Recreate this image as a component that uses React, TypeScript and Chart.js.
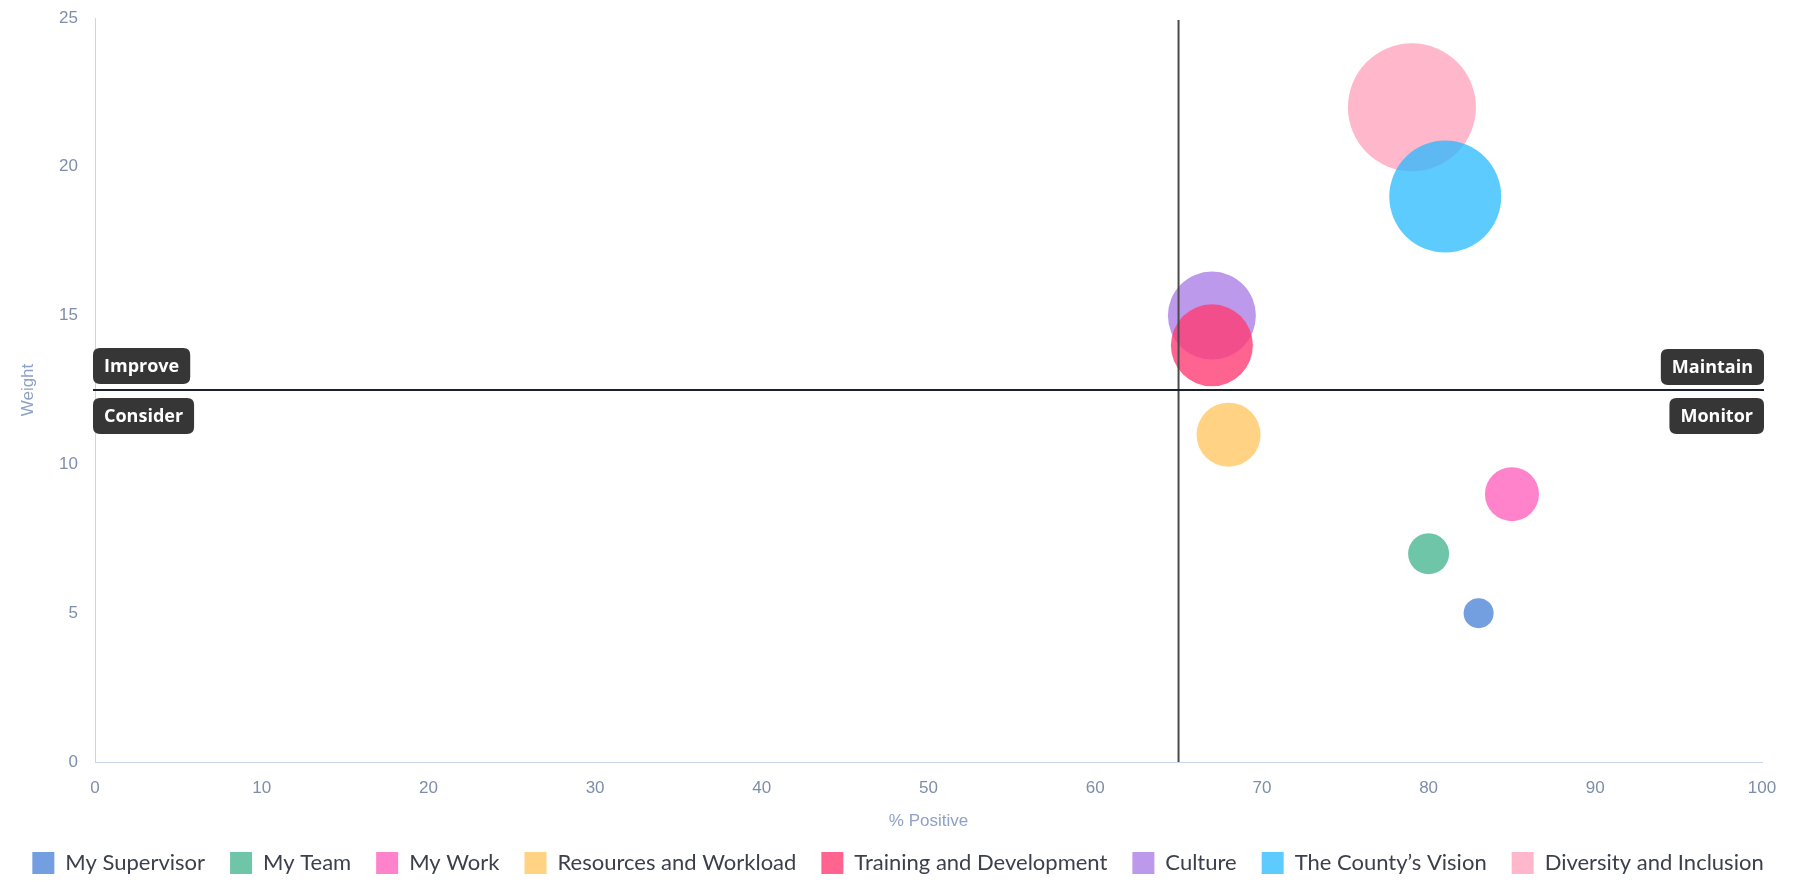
import React, { useEffect, useRef } from 'react';
import { Chart, registerables } from 'chart.js';

Chart.register(...registerables);

// Survey themes plotted as bubbles: x = % positive, y = weight, r = bubble radius (px)
const categories = [
  'My Supervisor',
  'My Team',
  'My Work',
  'Resources and Workload',
  'Training and Development',
  'Culture',
  'The County\u2019s Vision',
  'Diversity and Inclusion',
];
const positive = [83, 80, 85, 68, 67, 67, 81, 79];
const weight = [5, 7, 9, 11, 14, 15, 19, 22];
const bubbleRadius = [15, 20.5, 27, 32, 41, 44, 56, 64];
const colors = [
  'rgba(91, 141, 217, 0.85)',
  'rgba(75, 183, 145, 0.8)',
  'rgba(255, 90, 185, 0.75)',
  'rgba(255, 196, 90, 0.75)',
  'rgba(255, 60, 115, 0.8)',
  'rgba(160, 110, 225, 0.7)',
  'rgba(40, 185, 255, 0.75)',
  'rgba(255, 160, 185, 0.75)',
];

const xTickValues = [0, 10, 20, 30, 40, 50, 60, 70, 80, 90, 100];
const yTickValues = [0, 5, 10, 15, 20, 25];

const positiveThreshold = 65;
const weightThreshold = 12.5;
const quadrantNames = {
  topLeft: 'Improve',
  bottomLeft: 'Consider',
  topRight: 'Maintain',
  bottomRight: 'Monitor',
};

const tickColor = '#7f8ea8';
const titleColor = '#8da2c4';
const axisLineColor = '#c9d6ea';

function roundRect(ctx: CanvasRenderingContext2D, x: number, y: number, w: number, h: number, r: number) {
  ctx.beginPath();
  ctx.moveTo(x + r, y);
  ctx.lineTo(x + w - r, y);
  ctx.quadraticCurveTo(x + w, y, x + w, y + r);
  ctx.lineTo(x + w, y + h - r);
  ctx.quadraticCurveTo(x + w, y + h, x + w - r, y + h);
  ctx.lineTo(x + r, y + h);
  ctx.quadraticCurveTo(x, y + h, x, y + h - r);
  ctx.lineTo(x, y + r);
  ctx.quadraticCurveTo(x, y, x + r, y);
  ctx.closePath();
}

// Threshold lines and the four quadrant tags
const quadrantPlugin = {
  id: 'quadrants',
  afterDatasetsDraw(chart: any) {
    const { ctx, chartArea, scales } = chart;
    const xPix = scales.x.getPixelForValue(positiveThreshold);
    const yPix = scales.y.getPixelForValue(weightThreshold);
    ctx.save();
    ctx.lineWidth = 2;
    ctx.strokeStyle = '#4a4a4a';
    ctx.beginPath();
    ctx.moveTo(xPix, chartArea.top + 2);
    ctx.lineTo(xPix, chartArea.bottom);
    ctx.stroke();
    ctx.strokeStyle = '#1b2030';
    ctx.beginPath();
    ctx.moveTo(chartArea.left - 2, yPix);
    ctx.lineTo(chartArea.right + 2, yPix);
    ctx.stroke();

    ctx.font = 'bold 18px "Open Sans"';
    ctx.textBaseline = 'middle';
    const h = 36;
    const padX = 11;
    const tag = (text: string, x: number, top: number, alignRight: boolean) => {
      const w = ctx.measureText(text).width + padX * 2;
      const left = alignRight ? x - w : x;
      ctx.fillStyle = '#363636';
      roundRect(ctx, left, top, w, h, 7);
      ctx.fill();
      ctx.fillStyle = '#ffffff';
      ctx.textAlign = 'center';
      ctx.fillText(text, left + w / 2, top + h / 2 + 1);
    };
    tag(quadrantNames.topLeft, chartArea.left - 2, yPix - 6 - h, false);
    tag(quadrantNames.bottomLeft, chartArea.left - 2, yPix + 8, false);
    tag(quadrantNames.topRight, chartArea.right + 2, yPix - 5 - h, true);
    tag(quadrantNames.bottomRight, chartArea.right + 2, yPix + 8, true);
    ctx.restore();
  },
};

export default function App() {
  const canvasRef = useRef<HTMLCanvasElement | null>(null);

  useEffect(() => {
    if (!canvasRef.current) return;
    const chart = new Chart(canvasRef.current, {
      type: 'bubble',
      data: {
        datasets: categories.map((label, i) => ({
          label,
          data: [{ x: positive[i], y: weight[i], r: bubbleRadius[i] }],
          backgroundColor: colors[i],
          borderColor: colors[i],
          borderWidth: 0,
        })),
      },
      options: {
        responsive: false,
        animation: false,
        layout: {
          autoPadding: false,
          padding: { top: 18, right: 0, bottom: -2, left: 0 },
        },
        plugins: {
          tooltip: { enabled: false },
          legend: {
            position: 'bottom',
            labels: {
              boxWidth: 22,
              boxHeight: 22,
              padding: 25,
              color: '#3c3f4c',
              font: { family: 'Lato', size: 22 },
            },
          },
        },
        scales: {
          x: {
            type: 'linear',
            min: 0,
            max: 100,
            afterBuildTicks: (scale: any) => {
              scale.ticks = xTickValues.map((v) => ({ value: v }));
            },
            afterFit: (scale: any) => {
              scale.height = 65;
            },
            grid: { display: false, drawTicks: false },
            border: { display: true, color: axisLineColor, width: 1 },
            ticks: {
              color: tickColor,
              padding: 16,
              font: { family: 'Liberation Sans', size: 17 },
            },
            title: {
              display: true,
              text: '% Positive',
              color: titleColor,
              padding: { top: 0, bottom: -5 },
              font: { family: 'Liberation Sans', size: 17 },
            },
          },
          y: {
            type: 'linear',
            min: 0,
            max: 25,
            afterBuildTicks: (scale: any) => {
              scale.ticks = yTickValues.map((v) => ({ value: v }));
            },
            afterFit: (scale: any) => {
              scale.width = 95;
              scale.paddingTop = 0;
              scale.paddingBottom = 0;
            },
            grid: { display: false, drawTicks: false },
            border: { display: true, color: axisLineColor, width: 1 },
            ticks: {
              color: tickColor,
              padding: 17,
              font: { family: 'Liberation Sans', size: 17 },
            },
            title: {
              display: true,
              text: 'Weight',
              color: titleColor,
              padding: { top: 18, bottom: 0 },
              font: { family: 'Liberation Sans', size: 17 },
            },
          },
          // empty right-hand gutter so the plot stops short of the canvas edge
          gutter: {
            type: 'linear',
            position: 'right',
            display: true,
            afterFit: (scale: any) => {
              scale.width = 34;
              scale.paddingTop = 0;
              scale.paddingBottom = 0;
            },
            grid: { display: false, drawTicks: false },
            border: { display: false },
            ticks: { display: false },
          },
        },
      },
      plugins: [quadrantPlugin],
    } as any);

    if ((document as any).fonts && (document as any).fonts.ready) {
      (document as any).fonts.ready.then(() => chart.update());
    }
    return () => chart.destroy();
  }, []);

  return (
    <div style={{ position: 'absolute', left: 0, top: 0, width: 1796, height: 882, background: '#ffffff' }}>
      <canvas ref={canvasRef} width={1796} height={882} />
    </div>
  );
}
